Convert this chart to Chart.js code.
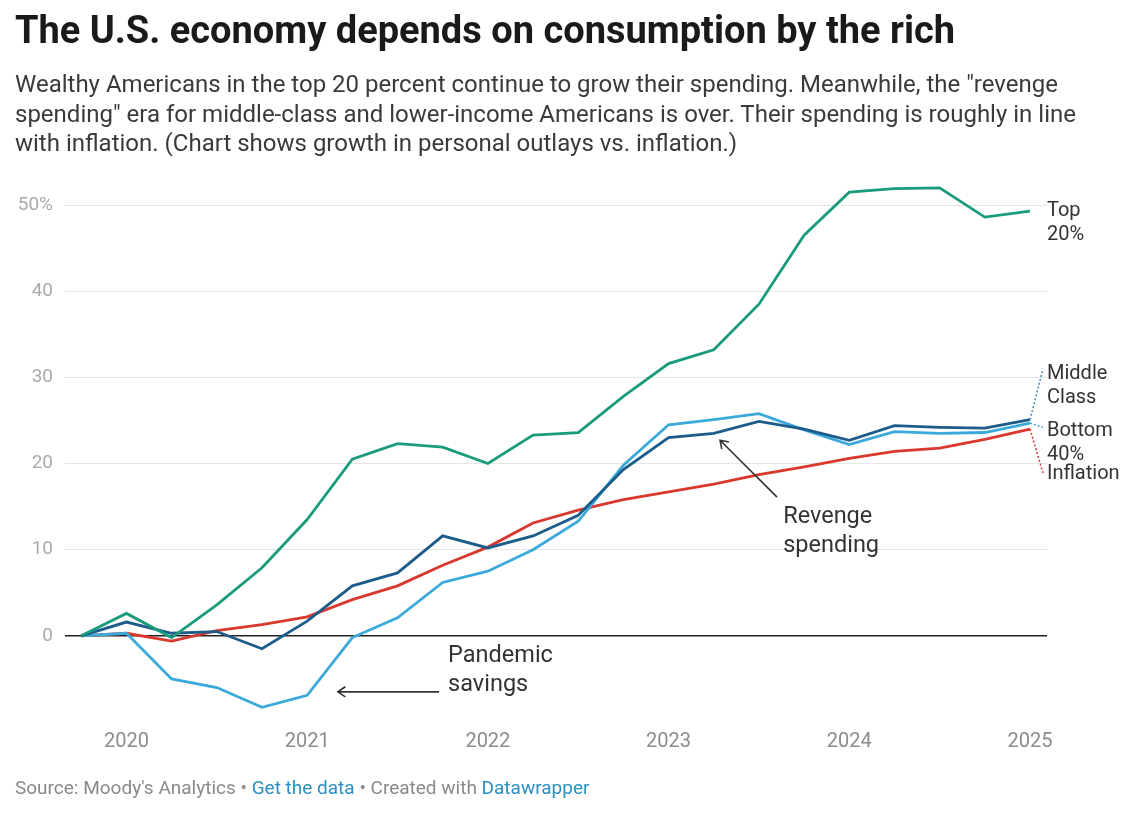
<!DOCTYPE html>
<html>
<head>
<meta charset="utf-8">
<script src="https://cdn.jsdelivr.net/npm/chart.js@4"></script>
<style>
  body { margin: 0; background: #fff; font-family: Roboto, sans-serif; }
  #wrap { position: relative; width: 1146px; height: 822px; overflow: hidden; }
  #chart { position: absolute; left: 0; top: 0; }
  .title { position: absolute; left: 15px; top: 8px; font-size: 38px; line-height: 44px; font-weight: 700; color: #1a1a1a; white-space: nowrap; }
  .sub { position: absolute; left: 15px; top: 70px; font-size: 24px; line-height: 29.5px; color: #3a3a3a; white-space: nowrap; }
  .foot { position: absolute; left: 15px; top: 776px; font-size: 19px; line-height: 24px; color: #8a8a8a; white-space: nowrap; }
  .foot span { color: #2a8fc2; }
</style>
</head>
<body>
<div id="wrap">
  <canvas id="chart" width="1146" height="822"></canvas>
  <div class="title">The U.S. economy depends on consumption by the rich</div>
  <div class="sub">Wealthy Americans in the top 20 percent continue to grow their spending. Meanwhile, the "revenge<br>spending" era for middle-class and lower-income Americans is over. Their spending is roughly in line<br>with inflation. (Chart shows growth in personal outlays vs. inflation.)</div>
  <div class="foot">Source: Moody's Analytics • <span>Get the data</span> • Created with <span>Datawrapper</span></div>
</div>
<script>
// quarters, Q4 2019 .. Q1 2025
const quarters = ['2019 Q4','2020 Q1','2020 Q2','2020 Q3','2020 Q4','2021 Q1','2021 Q2','2021 Q3','2021 Q4',
  '2022 Q1','2022 Q2','2022 Q3','2022 Q4','2023 Q1','2023 Q2','2023 Q3','2023 Q4','2024 Q1','2024 Q2','2024 Q3','2024 Q4','2025 Q1'];

// growth in personal outlays, % since Q4 2019
const top20      = [0, 2.6, -0.2, 3.6, 7.9, 13.5, 20.5, 22.3, 21.9, 20.0, 23.3, 23.6, 27.8, 31.6, 33.2, 38.5, 46.5, 51.5, 51.9, 52.0, 48.6, 49.3];
const middle     = [0, 1.6, 0.3, 0.5, -1.5, 1.7, 5.8, 7.3, 11.6, 10.2, 11.6, 14.0, 19.3, 23.0, 23.5, 24.9, 24.0, 22.7, 24.4, 24.2, 24.1, 25.1];
const bottom40   = [0, 0.3, -5.0, -6.0, -8.3, -6.9, -0.2, 2.1, 6.2, 7.5, 10.0, 13.3, 19.8, 24.5, 25.1, 25.8, 23.9, 22.2, 23.7, 23.5, 23.6, 24.7];
const inflation  = [0, 0.3, -0.6, 0.6, 1.3, 2.2, 4.2, 5.8, 8.2, 10.3, 13.1, 14.6, 15.8, 16.7, 17.6, 18.7, 19.6, 20.6, 21.4, 21.8, 22.8, 24.0];

const yearTicks = [2020, 2021, 2022, 2023, 2024, 2025];
const yTicks = [0, 10, 20, 30, 40, 50];

const qx = quarters.map(q => { const [y, n] = q.split(' Q'); return +y + (+n - 1) / 4; });
const pts = arr => arr.map((v, i) => ({ x: qx[i], y: v }));

const seriesLabels = [
  { ds: 0, lines: ['Top', '20%'], y: 49.3, lead: null },
  { ds: 1, lines: ['Middle', 'Class'], y: 30.4, lead: 31.0, dash: '#4a8fb5' },
  { ds: 2, lines: ['Bottom', '40%'], y: 23.8, lead: 24.2, dash: '#3ba9d9' },
  { ds: 3, lines: ['Inflation'], y: 18.8, lead: 18.9, dash: '#d9382e' }
];

const notes = [
  { lines: ['Revenge', 'spending'], x: 2023.634, y: 13.8, from: [2023.60, 16.1], to: [2023.285, 22.7] },
  { lines: ['Pandemic', 'savings'], x: 2021.78, y: -2.3, from: [2021.73, -6.5], to: [2021.17, -6.5] }
];

const annotate = {
  id: 'annotate',
  afterDatasetsDraw(chart) {
    const { ctx, scales: { x, y }, chartArea } = chart;
    ctx.save();
    ctx.textBaseline = 'middle';
    ctx.textAlign = 'left';
    // end labels
    ctx.font = '20px Roboto';
    seriesLabels.forEach(l => {
      const meta = chart.getDatasetMeta(l.ds);
      const last = meta.data[meta.data.length - 1];
      if (l.lead !== null) {
        ctx.strokeStyle = l.dash;
        ctx.lineWidth = 1.5;
        ctx.setLineDash([2, 2]);
        ctx.beginPath();
        ctx.moveTo(last.x, last.y);
        ctx.lineTo(chartArea.right - 4, y.getPixelForValue(l.lead));
        ctx.stroke();
        ctx.setLineDash([]);
      }
      ctx.fillStyle = '#333';
      l.lines.forEach((t, i) => ctx.fillText(t, chartArea.right, y.getPixelForValue(l.y) + i * 24));
    });
    // arrows and notes
    ctx.font = '23.5px Roboto';
    notes.forEach(n => {
      ctx.fillStyle = '#333';
      n.lines.forEach((t, i) => ctx.fillText(t, x.getPixelForValue(n.x), y.getPixelForValue(n.y) + i * 29));
      const x1 = x.getPixelForValue(n.from[0]), y1 = y.getPixelForValue(n.from[1]);
      const x2 = x.getPixelForValue(n.to[0]), y2 = y.getPixelForValue(n.to[1]);
      const a = Math.atan2(y2 - y1, x2 - x1);
      ctx.strokeStyle = '#333';
      ctx.lineWidth = 1.6;
      ctx.beginPath();
      ctx.moveTo(x1, y1);
      ctx.lineTo(x2, y2);
      ctx.moveTo(x2 - 9 * Math.cos(a - 0.6), y2 - 9 * Math.sin(a - 0.6));
      ctx.lineTo(x2, y2);
      ctx.lineTo(x2 - 9 * Math.cos(a + 0.6), y2 - 9 * Math.sin(a + 0.6));
      ctx.stroke();
    });
    ctx.restore();
  }
};

const line = (label, data, color) => ({
  label, data: pts(data), borderColor: color, borderWidth: 2.8,
  pointRadius: 0, tension: 0, fill: false
});

new Chart(document.getElementById('chart'), {
  type: 'line',
  data: {
    datasets: [
      line('Top 20%', top20, '#1a9b7b'),
      line('Middle Class', middle, '#1c5c8a'),
      line('Bottom 40%', bottom40, '#3ba9d9'),
      line('Inflation', inflation, '#d9382e')
    ]
  },
  options: {
    responsive: false,
    animation: false,
    layout: { padding: { left: 0, right: 99, top: 162, bottom: 58 } },
    plugins: { legend: { display: false }, tooltip: { enabled: false } },
    scales: {
      x: {
        type: 'linear', min: 2019.66, max: 2025.094,
        afterBuildTicks: s => { s.ticks = yearTicks.map(v => ({ value: v })); },
        afterFit: s => { s.height = 42; },
        grid: { display: false },
        border: { display: false },
        ticks: { color: '#8c8c8c', font: { family: 'Roboto', size: 20 }, padding: 0, callback: v => String(v) }
      },
      y: {
        min: -10, max: 55,
        afterBuildTicks: s => { s.ticks = yTicks.map(v => ({ value: v })); },
        afterFit: s => { s.width = 65; },
        grid: {
          drawTicks: false,
          color: c => c.tick.value === 0 ? '#222' : '#e5e5e5',
          lineWidth: c => c.tick.value === 0 ? 1.5 : 1
        },
        border: { display: false },
        ticks: {
          color: '#aaa', padding: 12, font: { family: 'Roboto', size: 19 },
          callback: v => v === 50 ? v + '%' : String(v)
        }
      }
    }
  },
  plugins: [annotate]
});
</script>
</body>
</html>
